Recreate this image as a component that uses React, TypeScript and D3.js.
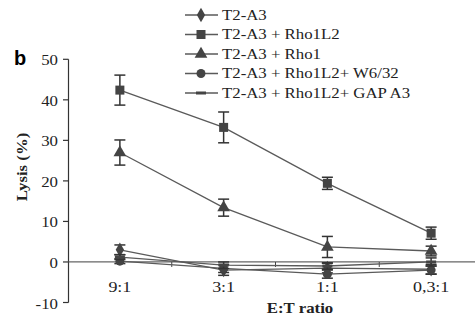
import * as d3 from "d3";
import type { ReactNode } from "react";

const categories = ["9:1", "3:1", "1:1", "0,3:1"];
const seriesNames = [
  "T2-A3",
  "T2-A3 + Rho1L2",
  "T2-A3 + Rho1",
  "T2-A3 + Rho1L2+ W6/32",
  "T2-A3 + Rho1L2+ GAP A3",
];
const markers = ["diamond", "square", "triangle", "circle", "dash"];
const values = [
  [3.0, -2.0, -1.5, -1.8],
  [42.4, 33.2, 19.4, 7.1],
  [27.0, 13.4, 3.7, 2.7],
  [0.2, -1.6, -3.0, -2.0],
  [1.2, -0.8, -1.0, 0.0],
];
const errors = [
  [1.2, 1.3, 1.2, 1.2],
  [3.7, 3.8, 1.5, 1.5],
  [3.1, 2.1, 2.6, 1.2],
  [0.6, 1.0, 1.0, 1.0],
  [0.6, 0.8, 0.8, 1.0],
];
const yTicks = [-10, 0, 10, 20, 30, 40, 50];

const W = 475;
const H = 324;
const serif = "Liberation Serif, Times New Roman, serif";
const SX = 1.2; // the figure's type is a bit wider than Times
const lineColor = "#5a5a5a";
const markColor = "#444";

// text stretched horizontally (along its own baseline)
function T(props: {
  x: number;
  y: number;
  size: number;
  anchor?: string;
  bold?: boolean;
  rotate?: boolean;
  children: ReactNode;
}) {
  const { x, y, size, anchor = "start", bold, rotate, children } = props;
  return (
    <text
      transform={`translate(${x},${y})${rotate ? " rotate(-90)" : ""} scale(${SX},1)`}
      textAnchor={anchor}
      fontSize={size}
      fontWeight={bold ? "bold" : "normal"}
      fill="#222"
    >
      {children}
    </text>
  );
}

function Marker({ type, x, y }: { type: string; x: number; y: number }) {
  if (type === "square")
    return <rect x={x - 4.5} y={y - 4.5} width={9} height={9} fill={markColor} />;
  if (type === "circle") return <circle cx={x} cy={y} r={4.5} fill={markColor} />;
  if (type === "dash")
    return <rect x={x - 5} y={y - 1.5} width={10} height={3} fill={markColor} />;
  const sym = type === "triangle" ? d3.symbolTriangle : d3.symbolDiamond;
  const path = d3.symbol().type(sym).size(type === "triangle" ? 70 : 60)();
  return <path d={path || ""} transform={`translate(${x},${y})`} fill={markColor} />;
}

export default function App() {
  const x = d3.scalePoint<string>().domain(categories).range([68, 483]).padding(0.5);
  const y = d3.scaleLinear().domain([-10, 50]).range([302.5, 59.3]);
  const line = d3
    .line<number>()
    .x((_, i) => x(categories[i])!)
    .y((d) => y(d));
  const step = x.step();
  const xTicks = categories.slice(1).map((c) => x(c)! - step / 2);

  return (
    <svg
      width={W}
      height={H}
      style={{ position: "fixed", left: 0, top: 0, background: "#fff", fontFamily: serif }}
    >
      <text
        x={14}
        y={65}
        style={{ fontFamily: "Liberation Sans, Arial, sans-serif" }}
        fontWeight="bold"
        fontSize={20}
      >
        b
      </text>

      {/* legend */}
      {seriesNames.map((name, i) => {
        const ly = 15 + i * 19.5;
        return (
          <g key={name}>
            <line x1={185} x2={218} y1={ly} y2={ly} stroke={lineColor} strokeWidth={1.3} />
            <Marker type={markers[i]} x={201} y={ly} />
            <T x={222} y={ly + 4.8} size={14}>
              {name}
            </T>
          </g>
        );
      })}

      {/* y axis */}
      <line x1={68.5} x2={68.5} y1={y(50)} y2={y(-10)} stroke="#333" strokeWidth={1.2} />
      {yTicks.map((t) => (
        <g key={t}>
          <line x1={63} x2={68.5} y1={y(t)} y2={y(t)} stroke="#333" strokeWidth={1.2} />
          <T x={58} y={y(t) + 6} size={14} anchor="end">
            {t}
          </T>
        </g>
      ))}
      <T x={27} y={167} size={14} anchor="middle" bold rotate>
        Lysis (%)
      </T>

      {/* x axis at zero */}
      <line x1={68.5} x2={W} y1={y(0)} y2={y(0)} stroke="#666" strokeWidth={1.2} />
      {xTicks.map((t) => (
        <line key={t} x1={t} x2={t} y1={y(0)} y2={y(0) + 5} stroke="#444" strokeWidth={1} />
      ))}
      {categories.map((c) => (
        <T key={c} x={x(c)!} y={292} size={15} anchor="middle">
          {c}
        </T>
      ))}
      <T x={300} y={313} size={14} anchor="middle" bold>
        E:T ratio
      </T>

      {/* series */}
      {values.map((vals, si) => (
        <g key={si}>
          <path d={line(vals) || ""} fill="none" stroke={lineColor} strokeWidth={1.3} />
          {vals.map((v, i) => {
            const cx = x(categories[i])!;
            const e = errors[si][i];
            return (
              <g key={i} stroke="#333" strokeWidth={1.5}>
                <line x1={cx} x2={cx} y1={y(v + e)} y2={y(v - e)} />
                <line x1={cx - 5.5} x2={cx + 5.5} y1={y(v + e)} y2={y(v + e)} />
                <line x1={cx - 5.5} x2={cx + 5.5} y1={y(v - e)} y2={y(v - e)} />
              </g>
            );
          })}
          {vals.map((v, i) => (
            <Marker key={i} type={markers[si]} x={x(categories[i])!} y={y(v)} />
          ))}
        </g>
      ))}
    </svg>
  );
}
